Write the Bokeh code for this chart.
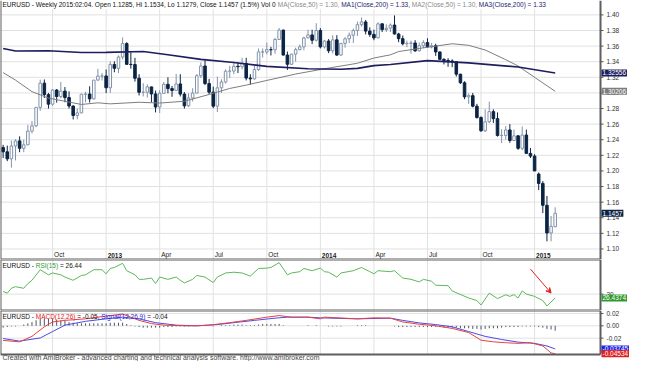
from bokeh.plotting import figure
from bokeh.layouts import column
from bokeh.models import Label, Arrow, VeeHead, Range1d
from bokeh.embed import file_html
from bokeh.resources import INLINE

# ---------------- data (weekly EURUSD, week of 2012-07-09 .. 2015-02-02) ----------------
opens = [1.2300, 1.2245, 1.2155, 1.2320, 1.2385, 1.2290, 1.2335, 1.2510, 1.2578, 1.2815,
         1.3125, 1.2978, 1.2856, 1.3037, 1.2954, 1.3023, 1.2940, 1.2832, 1.2711, 1.2744,
         1.2983, 1.2986, 1.2924, 1.3164, 1.3216, 1.3217, 1.3066, 1.3365, 1.3315, 1.3460,
         1.3632, 1.3366, 1.3363, 1.3188, 1.3008, 1.3008, 1.3077, 1.2987, 1.2819, 1.2995,
         1.3110, 1.3055, 1.3032, 1.3115, 1.2985, 1.2834, 1.2935, 1.2998, 1.3220, 1.3345,
         1.3120, 1.3010, 1.2830, 1.3065, 1.3140, 1.3278, 1.3280, 1.3342, 1.3335, 1.3378,
         1.3190, 1.3180, 1.3300, 1.3525, 1.3525, 1.3555, 1.3553, 1.3685, 1.3805, 1.3485,
         1.3367, 1.3497, 1.3555, 1.3590, 1.3705, 1.3743, 1.3675, 1.3800, 1.3590, 1.3665,
         1.3540, 1.3680, 1.3485, 1.3635, 1.3693, 1.3740, 1.3800, 1.3875, 1.3910, 1.3792,
         1.3750, 1.3705, 1.3885, 1.3812, 1.3830, 1.3870, 1.3755, 1.3695, 1.3630, 1.3635,
         1.3640, 1.3540, 1.3605, 1.3645, 1.3590, 1.3605, 1.3525, 1.3430, 1.3415, 1.3410,
         1.3400, 1.3240, 1.3130, 1.2950, 1.2965, 1.2830, 1.2685, 1.2515, 1.2630, 1.2760,
         1.2670, 1.2455, 1.2455, 1.2525, 1.2390, 1.2450, 1.2290, 1.2460, 1.2225, 1.2190,
         1.1960, 1.1840, 1.1560, 1.1205, 1.1285]
highs = [1.2335, 1.2325, 1.2390, 1.2405, 1.2443, 1.2400, 1.2590, 1.2640, 1.2815, 1.3170,
         1.3172, 1.3000, 1.3050, 1.3050, 1.3140, 1.3075, 1.3020, 1.2840, 1.2800, 1.2990,
         1.3015, 1.3085, 1.3165, 1.3308, 1.3256, 1.3300, 1.3404, 1.3405, 1.3480, 1.3711,
         1.3650, 1.3520, 1.3450, 1.3240, 1.3125, 1.3110, 1.3080, 1.3030, 1.3035, 1.3140,
         1.3200, 1.3090, 1.3243, 1.3240, 1.3010, 1.2995, 1.3060, 1.3240, 1.3390, 1.3415,
         1.3180, 1.3080, 1.3208, 1.3175, 1.3300, 1.3345, 1.3400, 1.3390, 1.3450, 1.3450,
         1.3240, 1.3345, 1.3570, 1.3570, 1.3645, 1.3590, 1.3705, 1.3832, 1.3810, 1.3530,
         1.3500, 1.3580, 1.3620, 1.3720, 1.3810, 1.3810, 1.3893, 1.3830, 1.3680, 1.3690,
         1.3740, 1.3740, 1.3640, 1.3715, 1.3775, 1.3825, 1.3915, 1.3967, 1.3935, 1.3840,
         1.3810, 1.3905, 1.3895, 1.3880, 1.3890, 1.3993, 1.3770, 1.3735, 1.3670, 1.3670,
         1.3677, 1.3645, 1.3675, 1.3700, 1.3640, 1.3630, 1.3530, 1.3445, 1.3445, 1.3430,
         1.3395, 1.3245, 1.3150, 1.2995, 1.3000, 1.2860, 1.2700, 1.2790, 1.2887, 1.2790,
         1.2750, 1.2535, 1.2575, 1.2600, 1.2530, 1.2460, 1.2570, 1.2530, 1.2295, 1.2215,
         1.1980, 1.1870, 1.1680, 1.1423, 1.1534]
lows = [1.2165, 1.2125, 1.2042, 1.2134, 1.2240, 1.2240, 1.2330, 1.2480, 1.2560, 1.2770,
        1.2935, 1.2800, 1.2835, 1.2875, 1.2930, 1.2880, 1.2800, 1.2660, 1.2662, 1.2740,
        1.2880, 1.2877, 1.2915, 1.3160, 1.3160, 1.2998, 1.3000, 1.3265, 1.3255, 1.3430,
        1.3365, 1.3310, 1.3145, 1.2967, 1.2955, 1.2940, 1.2880, 1.2750, 1.2744, 1.2990,
        1.2995, 1.2950, 1.3025, 1.2955, 1.2800, 1.2820, 1.2890, 1.2995, 1.3190, 1.3100,
        1.2985, 1.2805, 1.2755, 1.3000, 1.3120, 1.3190, 1.3240, 1.3255, 1.3300, 1.3160,
        1.3105, 1.3170, 1.3280, 1.3455, 1.3495, 1.3480, 1.3500, 1.3680, 1.3480, 1.3295,
        1.3360, 1.3400, 1.3545, 1.3545, 1.3700, 1.3625, 1.3660, 1.3570, 1.3570, 1.3510,
        1.3505, 1.3475, 1.3475, 1.3580, 1.3640, 1.3640, 1.3730, 1.3850, 1.3750, 1.3720,
        1.3675, 1.3700, 1.3780, 1.3780, 1.3780, 1.3750, 1.3650, 1.3610, 1.3585, 1.3503,
        1.3525, 1.3530, 1.3575, 1.3580, 1.3570, 1.3475, 1.3425, 1.3365, 1.3335, 1.3330,
        1.3210, 1.3115, 1.2920, 1.2860, 1.2815, 1.2670, 1.2500, 1.2500, 1.2615, 1.2615,
        1.2440, 1.2357, 1.2400, 1.2360, 1.2390, 1.2270, 1.2265, 1.2225, 1.2165, 1.2000,
        1.1755, 1.1460, 1.1098, 1.1098, 1.1279]
closes = [1.2245, 1.2155, 1.2320, 1.2385, 1.2290, 1.2335, 1.2510, 1.2578, 1.2815, 1.3125,
          1.2978, 1.2856, 1.3037, 1.2954, 1.3023, 1.2940, 1.2832, 1.2711, 1.2744, 1.2983,
          1.2986, 1.2924, 1.3164, 1.3216, 1.3217, 1.3066, 1.3365, 1.3315, 1.3460, 1.3632,
          1.3366, 1.3363, 1.3188, 1.3008, 1.3008, 1.3077, 1.2987, 1.2819, 1.2995, 1.3110,
          1.3055, 1.3032, 1.3115, 1.2985, 1.2834, 1.2935, 1.2998, 1.3220, 1.3345, 1.3120,
          1.3010, 1.2830, 1.3065, 1.3140, 1.3278, 1.3280, 1.3342, 1.3335, 1.3378, 1.3190,
          1.3180, 1.3300, 1.3525, 1.3525, 1.3555, 1.3553, 1.3685, 1.3805, 1.3485, 1.3367,
          1.3497, 1.3555, 1.3590, 1.3705, 1.3743, 1.3675, 1.3800, 1.3590, 1.3665, 1.3540,
          1.3680, 1.3485, 1.3635, 1.3693, 1.3740, 1.3800, 1.3875, 1.3910, 1.3792, 1.3750,
          1.3705, 1.3885, 1.3812, 1.3830, 1.3870, 1.3755, 1.3695, 1.3630, 1.3635, 1.3640,
          1.3540, 1.3605, 1.3645, 1.3590, 1.3605, 1.3525, 1.3430, 1.3415, 1.3410, 1.3400,
          1.3240, 1.3130, 1.2950, 1.2965, 1.2830, 1.2685, 1.2515, 1.2630, 1.2760, 1.2670,
          1.2455, 1.2455, 1.2525, 1.2390, 1.2450, 1.2290, 1.2460, 1.2225, 1.2190, 1.2000,
          1.1840, 1.1560, 1.1205, 1.1290, 1.1457]

# moving averages (bar index, value)
ma200_idx = [0, 3, 11, 19, 25, 34, 40, 48, 56, 64, 74, 82, 86, 90, 94, 103, 113, 125, 134]
ma200_val = [1.3570, 1.3537, 1.3540, 1.3517, 1.3520, 1.3530, 1.3490, 1.3430, 1.3390, 1.3340,
             1.3310, 1.3303, 1.3315, 1.3350, 1.3364, 1.3414, 1.3385, 1.3332, 1.32556]
ma50_idx = [0, 3, 7, 11, 15, 19, 23, 26, 33, 38, 44, 50, 55, 59, 64, 71, 77, 86, 90, 94,
            96, 101, 109, 113, 117, 122, 125, 129, 134]
ma50_val = [1.3260, 1.3164, 1.3016, 1.2934, 1.2893, 1.2852, 1.2873, 1.2860, 1.2880, 1.2870,
            1.2893, 1.2980, 1.3057, 1.3100, 1.3160, 1.3242, 1.3300, 1.3380, 1.3447, 1.3488,
            1.3530, 1.3570, 1.3630, 1.3610, 1.3550, 1.3426, 1.3345, 1.3200, 1.30206]

# RSI(15)
rsi_idx = [0, 1, 2, 3, 5, 6, 7, 9, 11, 12, 14, 15, 17, 19, 20, 22, 24, 25, 26, 27,
           29, 30, 32, 33, 34, 36, 37, 38, 40, 42, 43, 44, 46, 47, 49, 51, 52, 54, 56, 58,
           60, 62, 64, 65, 67, 69, 70, 72, 73, 75, 77, 78, 79, 81, 82, 85, 87, 89, 90, 91,
           94, 95, 97, 99, 101, 102, 104, 105, 108, 109, 113, 115, 116, 118, 120, 122, 123, 124, 125, 126,
           127, 129, 131, 132, 134]
rsi_val = [32.4, 30.9, 35.4, 36.9, 35.4, 39.8, 42.8, 52.6, 47.9, 49.6, 47.9, 45.8, 42.8, 47.3, 47.9,
           52.6, 52.6, 48.8, 53.8, 54.7, 58.6, 51.7, 47.9, 43.7, 43.7, 44.9, 39.8, 45.8, 43.7, 45.8,
           42.8, 40.4, 43.7, 47.3, 45.8, 40.7, 45.8, 49.6, 50.3, 49.6, 46.7, 53.8, 54.1, 54.7, 59.2,
           47.9, 49.6, 50.8, 53.8, 51.7, 54.1, 50.8, 50.3, 45.8, 49.6, 51.7, 54.7, 50.8, 48.8, 51.7,
           50.8, 51.7, 44.9, 43.7, 41.3, 43.7, 41.9, 38.3, 37.8, 32.9, 26.4, 24.0, 19.9, 30.9, 25.8,
           29.4, 27.9, 29.5, 26.4, 33.0, 30.0, 27.9, 24.0, 19.0, 26.4374]

# MACD(12,26) and Signal(12,26,9)
macd_idx = [0, 4, 7, 10, 12, 15, 20, 23, 26, 29, 33, 36, 39, 44, 47, 50, 55, 59, 64, 67,
            70, 74, 77, 78, 86, 90, 94, 97, 101, 105, 109, 113, 116, 119, 122, 125, 128, 131, 133, 134]
macd_val = [-0.0237, -0.0259, -0.0171, -0.0016, 0.0062, 0.0088, 0.0113, 0.0140, 0.0166, 0.0191,
            0.0088, 0.0036, 0.0011, 0.0000, 0.0000, 0.0011, 0.0051, 0.0088, 0.0140, 0.0166,
            0.0140, 0.0140, 0.0113, 0.0140, 0.0113, 0.0129, 0.0124, 0.0062, 0.0026, 0.0000,
            -0.0042, -0.0109, -0.0233, -0.0259, -0.0274, -0.0284, -0.0274, -0.0326, -0.0439, -0.04534]
sig_idx = [0, 4, 9, 12, 15, 20, 25, 29, 33, 37, 42, 47, 52, 56, 61, 66, 69, 74, 77, 86,
           94, 97, 101, 105, 109, 113, 117, 121, 125, 129, 132, 134]
sig_val = [-0.0206, -0.0248, -0.0197, -0.0093, 0.0011, 0.0073, 0.0113, 0.0140, 0.0113, 0.0051,
           0.0011, 0.0000, 0.0020, 0.0051, 0.0088, 0.0124, 0.0140, 0.0140, 0.0129, 0.0113,
           0.0124, 0.0088, 0.0047, 0.0020, -0.0016, -0.0093, -0.0171, -0.0222, -0.0264, -0.0284,
           -0.0326, -0.03745]
hist_val = [-0.003, -0.002, -0.001, -0.001, 0.000, 0.002, 0.004, 0.006, 0.009, 0.012,
            0.012, 0.011, 0.011, 0.010, 0.009, 0.008, 0.006, 0.005, 0.004, 0.004,
            0.004, 0.004, 0.004, 0.004, 0.004, 0.004, 0.005, 0.005, 0.005, 0.005,
            0.003, 0.001, -0.001, -0.002, -0.003, -0.003, -0.003, -0.003, -0.003, -0.002,
            -0.002, -0.002, -0.001, -0.001, -0.001, -0.001, 0.000, 0.000, 0.001, 0.001,
            0.000, -0.001, 0.000, 0.001, 0.001, 0.001, 0.002, 0.002, 0.002, 0.001,
            0.001, 0.001, 0.002, 0.003, 0.003, 0.003, 0.003, 0.003, 0.001, 0.000,
            0.000, 0.000, 0.000, 0.000, 0.001, 0.000, 0.001, 0.000, 0.000, -0.001,
            -0.001, -0.001, -0.001, 0.000, 0.000, 0.000, 0.001, 0.001, 0.001, 0.000,
            0.000, 0.000, 0.000, 0.000, 0.000, -0.001, -0.002, -0.002, -0.002, -0.002,
            -0.002, -0.002, -0.002, -0.002, -0.002, -0.002, -0.002, -0.003, -0.003, -0.003,
            -0.003, -0.004, -0.004, -0.004, -0.005, -0.005, -0.006, -0.005, -0.004, -0.004,
            -0.004, -0.003, -0.002, -0.002, -0.002, -0.002, -0.001, -0.001, -0.001, -0.001,
            -0.002, -0.003, -0.005, -0.006, -0.008]

tick_idx = [12, 25, 38, 51, 64, 77, 90, 103, 116, 129]
tick_lbl = ["Oct", "2013", "Apr", "Jul", "Oct", "2014", "Apr", "Jul", "Oct", "2015"]
price_ticks = [1.10, 1.12, 1.14, 1.16, 1.18, 1.20, 1.22, 1.24, 1.26, 1.28, 1.30, 1.32, 1.34, 1.36, 1.38, 1.40]
rsi_ticks = [30]
macd_ticks = [0.02, 0.0, -0.02]

# ---------------- layout / styling ----------------
FONT = "Liberation Sans"
AW = {' ': 278, '!': 278, '%': 889, '(': 333, ')': 333, ',': 278, '-': 333, '.': 278, '/': 278,
      ':': 278, '=': 584, 'A': 667, 'B': 667, 'C': 722, 'D': 722, 'E': 667, 'F': 611, 'G': 778,
      'H': 722, 'I': 278, 'L': 556, 'M': 833, 'O': 778, 'R': 722, 'S': 667, 'U': 722, 'V': 667,
      'W': 944, 'a': 556, 'b': 556, 'c': 500, 'd': 556, 'e': 556, 'f': 278, 'g': 556, 'h': 556,
      'i': 222, 'k': 500, 'l': 222, 'm': 833, 'n': 556, 'o': 556, 'p': 556, 'r': 333, 's': 500,
      't': 278, 'v': 500, 'w': 722, 'y': 500}


def em_width(s):
    return sum(AW.get(ch, 556) for ch in s) / 1000.0


W = 629
PANE_W = 600                     # width of the chart panes; the rest holds the value scale
X0, X1 = -0.64, 145.0            # bar-index span of the panes
XPX = (X1 - X0) / PANE_W         # bar units per pixel
xr = Range1d(X0, X0 + W * XPX)

P_H, R_H, M_H = 259, 51, 51
P_RANGE = (1.0865, 1.41844)
P_GRID_TOP = 1.4074
R_RANGE = (14.8, 62.1)
M_FRAME_BOTTOM = -0.0465
M_RANGE = (-0.0578, 0.0248)

GRID = "#e1e1e1"
BORDER = "#5e5e5e"
TS = 6.5          # smallest size that renders at its true width here
LS = "6.5px"


def make_fig(h, yr):
    p = figure(width=W, height=h, x_range=xr, y_range=Range1d(*yr),
               output_backend="svg", toolbar_location=None,
               x_axis_location=None, y_axis_location=None,
               min_border_left=0, min_border_right=0, min_border_top=0, min_border_bottom=0)
    p.outline_line_color = None
    p.background_fill_color = "white"
    p.border_fill_color = "white"
    p.grid.visible = False
    return p


def pane_grid(p, ticks, y_lo, y_hi):
    p.segment(x0=[X0] * len(ticks), x1=[X1] * len(ticks), y0=ticks, y1=ticks,
              line_color=GRID, line_width=1)
    p.segment(x0=tick_idx, x1=tick_idx, y0=[y_lo] * len(tick_idx), y1=[y_hi] * len(tick_idx),
              line_color=GRID, line_width=1)


def pane_scale(p, ticks, fmt):
    p.segment(x0=[X1] * len(ticks), x1=[X1 + 3 * XPX] * len(ticks), y0=ticks, y1=ticks,
              line_color="#555555", line_width=1)
    for t in ticks:
        p.add_layout(Label(x=X1, y=t, x_units="data", y_units="data", x_offset=6,
                           text=fmt % t, text_font=FONT, text_font_size=LS,
                           text_color="#333333", text_align="left", text_baseline="middle"))


def pane_border(p, y_lo, y_hi, top=True, bottom=True):
    p.segment(x0=[X0, X1], x1=[X0, X1], y0=[y_lo, y_lo], y1=[y_hi, y_hi],
              line_color=BORDER, line_width=2)
    ys = ([y_lo] if bottom else []) + ([y_hi] if top else [])
    if ys:
        p.segment(x0=[X0] * len(ys), x1=[X1] * len(ys), y0=ys, y1=ys, line_color=BORDER, line_width=2)


def add_segments(p, segs, px0, y, size, baseline):
    px = px0
    for text, color in segs:
        lead = len(text) - len(text.lstrip(" "))
        px += em_width(" ") * size * lead
        body = text.strip(" ")
        p.add_layout(Label(x=X0 + px * XPX, y=y, x_units="data", y_units="screen", text=body,
                           text_color=color, text_font=FONT, text_font_size=f"{size}px",
                           text_baseline=baseline, text_align="left"))
        px += em_width(text.lstrip(" ")) * size


def value_box(p, yv, text, bg):
    p.add_layout(Label(x=X1, y=yv, x_units="data", y_units="data", x_offset=1,
                       text=text, text_color="white", text_font=FONT, text_font_size=LS,
                       text_align="left", text_baseline="middle",
                       background_fill_color=bg, padding=1))


n = len(closes)

# ---------------- price pane ----------------
p1 = make_fig(P_H, P_RANGE)
pane_grid(p1, price_ticks, P_RANGE[0], P_GRID_TOP)

up = [i for i in range(n) if closes[i] >= opens[i]]
dn = [i for i in range(n) if closes[i] < opens[i]]
UPC = "#8193aa"
DNC = "#0c2444"
p1.segment(x0=up, x1=up, y0=[lows[i] for i in up], y1=[highs[i] for i in up], line_color=UPC, line_width=1)
p1.segment(x0=dn, x1=dn, y0=[lows[i] for i in dn], y1=[highs[i] for i in dn], line_color=DNC, line_width=1)
p1.vbar(x=up, width=0.62, top=[closes[i] for i in up], bottom=[opens[i] for i in up],
        fill_color="white", line_color=UPC, line_width=1)
p1.vbar(x=dn, width=0.62, top=[opens[i] for i in dn], bottom=[closes[i] for i in dn],
        fill_color=DNC, line_color=DNC, line_width=1)
p1.line(ma50_idx, ma50_val, line_color="#7d7d7d", line_width=1)
p1.line(ma200_idx, ma200_val, line_color="#1d1d5f", line_width=1.6)
pane_border(p1, P_RANGE[0], P_RANGE[1], top=False)
pane_scale(p1, price_ticks, "%.2f")

for ti, tl in zip(tick_idx, tick_lbl):
    p1.add_layout(Label(x=ti, y=1.5, x_units="data", y_units="screen", x_offset=1.5, text=tl,
                        text_font=FONT, text_font_size=LS, text_color="#222222",
                        text_font_style="bold" if tl.isdigit() else "normal",
                        text_baseline="bottom", text_align="left"))

add_segments(p1, [
    ("EURUSD - Weekly 2015:02:04. Open 1.1285, Hi 1.1534, Lo 1.1279, Close 1.1457 (1.5%) Vol 0 ", "#111111"),
    ("MA(Close,50) = 1.30, ", "#8a8a8a"),
    ("MA1(Close,200) = 1.33, ", "#1d1d6f"),
    ("MA2(Close,50) = 1.30, ", "#8a8a8a"),
    ("MA3(Close,200) = 1.33", "#1d1d6f"),
], 2, P_H - 0.5, TS, "top")

value_box(p1, ma200_val[-1], "1.32556", "#1d1d5f")
value_box(p1, ma50_val[-1], "1.30206", "#7d7d7d")
value_box(p1, closes[-1], "1.1457", "#0c2444")

# ---------------- RSI pane ----------------
p2 = make_fig(R_H, R_RANGE)
pane_grid(p2, rsi_ticks, R_RANGE[0], R_RANGE[1])
p2.line(rsi_idx, rsi_val, line_color="#5cb85c", line_width=1)
pane_border(p2, R_RANGE[0], R_RANGE[1])
pane_scale(p2, rsi_ticks, "%d")
add_segments(p2, [("EURUSD - ", "#111111"), ("RSI(15)", "#2f9a2f"), (" = 26.44", "#111111")],
             2, R_H - 2, TS, "top")
p2.add_layout(Arrow(x_start=128, y_start=53.2, x_end=133, y_end=31.0,
                    line_color="#e02020", line_width=1,
                    end=VeeHead(size=5, line_color="#e02020", fill_color="#e02020", line_width=1)))
value_box(p2, rsi_val[-1], "26.4374", "#2f9a2f")

# ---------------- MACD pane ----------------
p3 = make_fig(M_H, M_RANGE)
pane_grid(p3, macd_ticks, M_FRAME_BOTTOM, M_RANGE[1])
hx = list(range(n))
p3.segment(x0=hx, x1=hx, y0=[0] * n, y1=hist_val, line_color="#4d5666", line_width=1)
p3.line(sig_idx, sig_val, line_color="#4a4ae6", line_width=1)
p3.line(macd_idx, macd_val, line_color="#e64040", line_width=1)
pane_border(p3, M_FRAME_BOTTOM, M_RANGE[1])
pane_scale(p3, macd_ticks, "%.2f")
add_segments(p3, [("EURUSD - ", "#111111"), ("MACD(12,26)", "#e02020"), (" = -0.05, ", "#111111"),
                  ("Signal(12,26,9)", "#2828d8"), (" = -0.04", "#111111")],
             2, M_H - 2, TS, "top")
value_box(p3, sig_val[-1], "-0.03745", "#2424e0")
value_box(p3, macd_val[-1], "-0.04534", "#e02020")

footer = "Created with AmiBroker - advanced charting and technical analysis software. http://www.amibroker.com"
fs = max(6.5, 318.0 / em_width(footer))
p3.add_layout(Label(x=X0 + 2 * XPX, y=0.5, x_units="data", y_units="screen", text=footer,
                    text_font=FONT, text_font_size=f"{fs:.2f}px", text_color="#444444",
                    text_baseline="bottom", text_align="left"))

layout = column(p1, p2, p3, spacing=0)
open("out.html", "w").write(file_html(layout, INLINE))
